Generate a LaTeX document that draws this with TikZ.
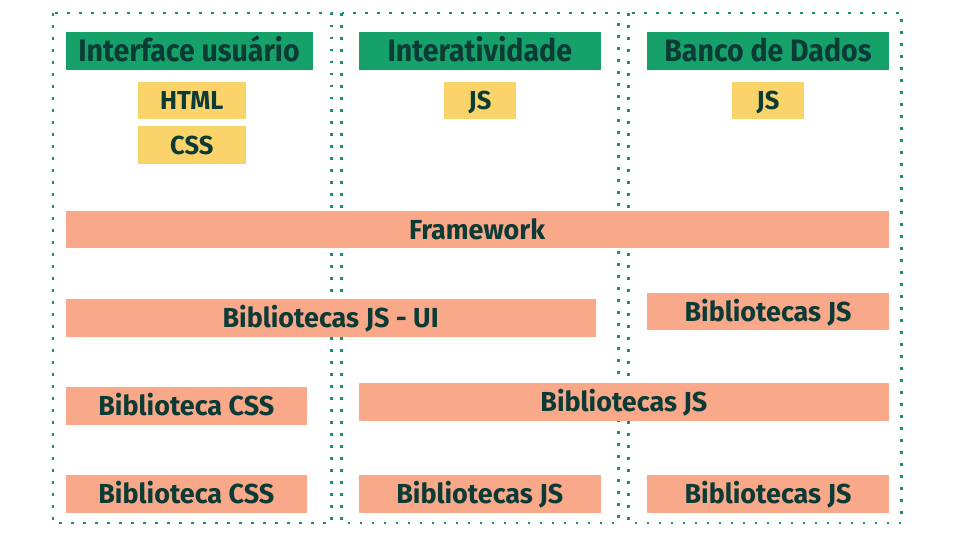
\documentclass[tikz,border=0pt]{standalone}
\usepackage{fontspec}
\newfontfamily\hdrfont{Fira Sans}[FakeStretch=0.92]
\newfontfamily\bodyfont{Fira Sans}[FakeStretch=0.98]
\definecolor{dotc}{HTML}{179070}
\definecolor{hdrc}{HTML}{16A06A}
\definecolor{yelc}{HTML}{FAD36B}
\definecolor{salc}{HTML}{F9A88A}
\definecolor{txtc}{HTML}{0B3B34}
\begin{document}
\begin{tikzpicture}[x=1pt,y=-1pt,
  colframe/.style={draw=dotc, line width=2.6pt, dash pattern=on 2.6pt off 9.4pt},
  basebox/.style={inner sep=0pt, outer sep=0pt, text=txtc, text depth=0pt, align=center},
  hdrbox/.style={basebox, fill=hdrc, minimum height=37.5pt, font=\hdrfont\bfseries\fontsize{31}{31}\selectfont, text height=21.3pt},
  yelbox/.style={basebox, fill=yelc, minimum height=37.5pt, font=\bodyfont\bfseries\fontsize{26}{26}\selectfont, text height=17.8pt},
  salbox/.style={basebox, fill=salc, minimum height=37.4pt, font=\bodyfont\bfseries\fontsize{27.5}{27.5}\selectfont, text height=19pt}
]
\useasboundingbox (0,0) rectangle (960,540);
% column frames
\draw[colframe] (53,13) rectangle (331.5,523);
\draw[colframe] (341.5,13) rectangle (618.5,523);
\draw[colframe] (628.5,13) rectangle (901.5,523);
% headers
\node[hdrbox, minimum width=247pt] (h1) at (189,51.25) {Interface usuário};
\node[hdrbox, minimum width=241.5pt] (h2) at (479.75,51.25) {Interatividade};
\node[hdrbox, minimum width=241.4pt] (h3) at (768,51.25) {Banco de Dados};
% yellow
\node[yelbox, minimum width=108.5pt] (html) at (191.75,100.75) {HTML};
\node[yelbox, minimum width=108.5pt] (css) at (191.75,145.25) {CSS};
\node[yelbox, minimum width=72pt] (js2) at (480,100.75) {JS};
\node[yelbox, minimum width=71.4pt] (js3) at (768,100.75) {JS};
% salmon
\node[salbox, minimum width=823.2pt] (fw) at (477.1,229.65) {Framework};
\node[salbox, minimum width=530.2pt] (jsui) at (330.6,318) {Bibliotecas JS - UI};
\node[salbox, minimum width=241.4pt, minimum height=37pt] (bjs3a) at (768,311.8) {Bibliotecas JS};
\node[salbox, minimum width=241.3pt, minimum height=37.7pt] (bcss1) at (186.35,405.85) {Biblioteca CSS};
\node[salbox, minimum width=529.7pt, minimum height=37.7pt] (bjsmid) at (623.85,402.15) {Bibliotecas JS};
\node[salbox, minimum width=241.3pt] (bcss2) at (186.35,494) {Biblioteca CSS};
\node[salbox, minimum width=241.5pt] (bjs2) at (479.75,494) {Bibliotecas JS};
\node[salbox, minimum width=241.4pt] (bjs3b) at (768,494) {Bibliotecas JS};
\end{tikzpicture}
\end{document}
